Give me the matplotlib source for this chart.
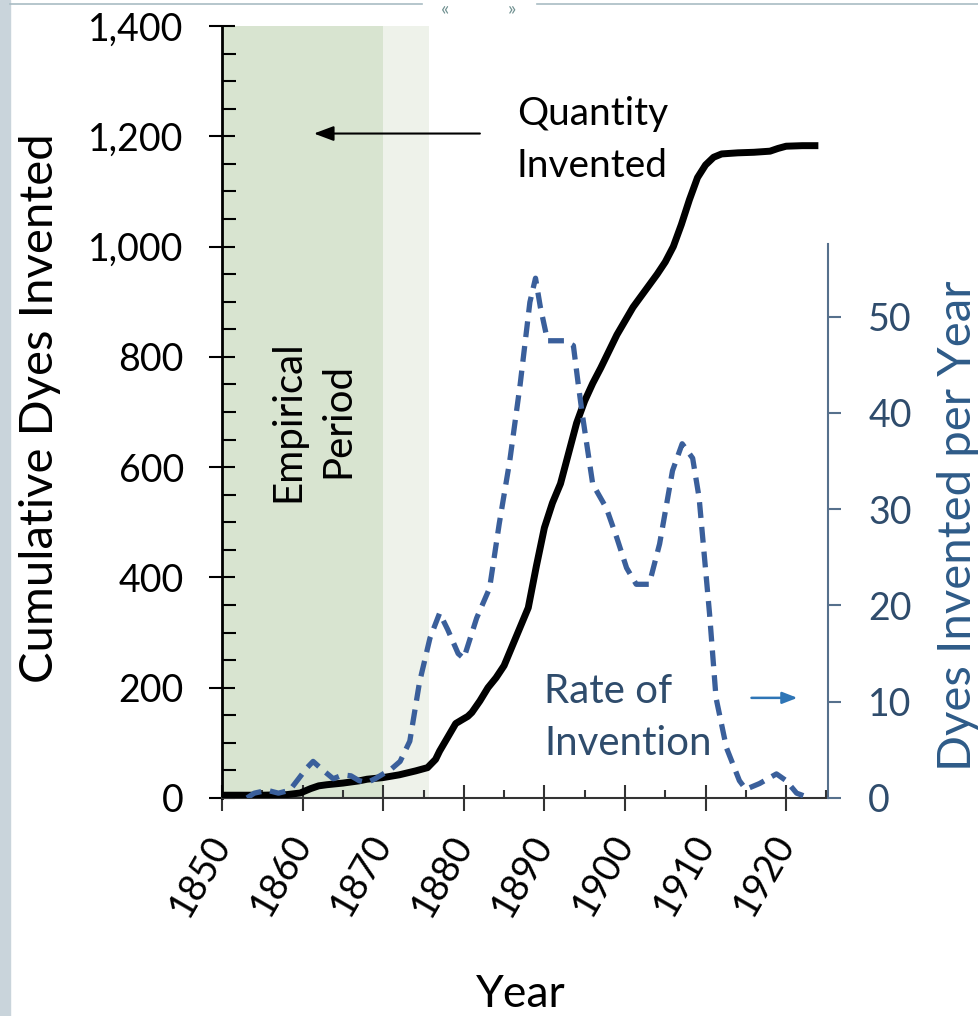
import numpy as np
import matplotlib.pyplot as plt
from matplotlib.ticker import MultipleLocator, FuncFormatter

plt.rcParams['font.family'] = ['Lato', 'DejaVu Sans']

# cumulative dyes invented (left axis)
years_cum = [1850, 1852, 1855, 1858, 1859.7, 1861, 1862, 1863, 1865, 1867, 1868, 1870,
             1872, 1874, 1875.5, 1876.5, 1877, 1878, 1879, 1879.8, 1880.5, 1881, 1882,
             1883, 1884, 1885, 1886, 1887, 1888, 1889, 1890, 1891, 1892, 1893, 1894,
             1895, 1896, 1897, 1898, 1899, 1900, 1901, 1902, 1903, 1904, 1905, 1906,
             1907, 1908, 1909, 1910, 1911, 1912, 1914, 1916, 1918, 1919, 1920, 1922, 1924]
cum_dyes = [5, 5, 5, 6, 9, 17, 22, 24, 27, 31, 34, 37,
            42, 49, 55, 70, 85, 110, 135, 142, 148, 155, 176,
            200, 218, 240, 275, 310, 345, 420, 490, 535, 570, 625, 680,
            720, 752, 780, 810, 840, 865, 890, 910, 930, 950, 972, 1000,
            1040, 1085, 1125, 1148, 1162, 1168, 1170, 1171, 1173, 1178, 1182, 1183, 1183]

# dyes invented per year (right axis)
years_rate = [1853.1, 1854, 1855.6, 1857, 1858.4, 1859.5, 1860.5, 1861.3, 1862.5, 1863.8,
              1865, 1866, 1867, 1868, 1869, 1870, 1871, 1872.1, 1873.3, 1874.5, 1875.8,
              1877, 1878, 1879.3, 1880, 1881.6, 1883.2, 1884.4, 1885.7, 1887, 1888.2,
              1888.9, 1889.5, 1890.4, 1891.5, 1892.5, 1893.6, 1894.2, 1894.7, 1896,
              1897.7, 1899, 1900.2, 1901.4, 1903, 1904.3, 1905.9, 1907.1, 1908.4, 1909.2,
              1910.5, 1911.3, 1912.6, 1914.2, 1915, 1916.7, 1918.8, 1920, 1921.3, 1922.9]
rate = [0, 0.5, 0.8, 0.5, 0.8, 2, 3.1, 3.8, 2.9, 2.0,
        2.4, 2.3, 1.8, 1.6, 2.0, 2.5, 3.0, 3.8, 5.9, 12, 16.6,
        19.2, 17.5, 15, 14.5, 18.7, 21.8, 28.5, 35, 43, 51.5,
        54, 51, 47.5, 47.5, 47.5, 47, 43, 39.9, 32.6,
        30.1, 27, 23.9, 22.2, 22.2, 26.4, 34, 36.8, 35.3, 31.2,
        19.1, 10.4, 5.2, 1.8, 0.9, 1.5, 2.5, 1.8, 0.5, 0]

x_ticks = [1850, 1860, 1870, 1880, 1890, 1900, 1910, 1920]
empirical = (1850, 1870)
transition = (1870, 1875.7)

blue = '#3a5f9b'
right_col = '#56708c'

fig = plt.figure(figsize=(9.79, 10.16), dpi=100)
ax = fig.add_axes([0.2268, 0.2146, 0.619, 0.7598])

# page decoration
fig.patches.append(plt.Rectangle((0, 0), 10 / 979, 1, transform=fig.transFigure,
                                 color='#c9d4db', zorder=0))
fig.add_artist(plt.Line2D([10 / 979, 422 / 979], [1 - 4 / 1016] * 2,
                          transform=fig.transFigure, color='#a9bcc4', lw=1.2))
fig.add_artist(plt.Line2D([537 / 979, 1], [1 - 4 / 1016] * 2,
                          transform=fig.transFigure, color='#a9bcc4', lw=1.2))
fig.text(445 / 979, 1.0, '«', color='#6f9090', fontsize=14, ha='center', va='top')
fig.text(512 / 979, 1.0, '»', color='#6f9090', fontsize=14, ha='center', va='top')

ax.axvspan(*empirical, color='#d8e4d0', lw=0, zorder=0)
ax.axvspan(*transition, color='#eef2ea', lw=0, zorder=0)

ax.plot(years_cum, cum_dyes, color='black', lw=5, solid_capstyle='butt', zorder=4)

ax.set_xlim(1850, 1925.2)
ax.set_ylim(0, 1400)
ax.set_xticks(x_ticks)
ax.xaxis.set_minor_locator(MultipleLocator(5))
ax.yaxis.set_major_locator(MultipleLocator(200))
ax.yaxis.set_minor_locator(MultipleLocator(50))
ax.yaxis.set_major_formatter(FuncFormatter(lambda v, p: f'{int(v):,}'))

for s in ['top', 'right']:
    ax.spines[s].set_visible(False)
ax.spines['left'].set_linewidth(2)
ax.spines['bottom'].set_linewidth(1.5)
ax.spines['bottom'].set_color('#333333')

ax.tick_params(axis='y', which='major', direction='inout', length=19, width=1.5,
               labelsize=27, pad=18)
ax.tick_params(axis='y', which='minor', direction='in', length=10, width=1.5)
ax.tick_params(axis='x', which='major', direction='inout', length=19, width=1.5,
               labelsize=27, pad=19, color='#333333')
ax.tick_params(axis='x', which='minor', direction='in', length=6, width=1.5, color='#333333')
for lab in ax.get_xticklabels():
    lab.set_rotation(60)
    lab.set_ha('right')
    lab.set_va('center')
    lab.set_rotation_mode('anchor')

ax.set_ylabel('Cumulative Dyes Invented', fontsize=34)
ax.yaxis.set_label_coords(-0.265, 0.505)
ax.set_xlabel('Year', fontsize=32)
ax.xaxis.set_label_coords(0.493, -0.228)

ax2 = ax.twinx()
ax2.plot(years_rate, rate, color=blue, lw=3.8, dashes=(3.0, 1.7), zorder=3)
ax2.set_ylim(0, 80.2)
ax2.set_yticks([0, 10, 20, 30, 40, 50])
for s in ['top', 'left', 'bottom']:
    ax2.spines[s].set_visible(False)
ax2.spines['right'].set_bounds(0, 57.6)
ax2.spines['right'].set_color(right_col)
ax2.spines['right'].set_linewidth(1.5)
ax2.tick_params(axis='y', direction='out', length=9, width=1.5, color=right_col,
                labelcolor='#2f4c6c', labelsize=27, pad=20)
ax2.set_ylabel('Dyes Invented per Year', fontsize=34, color='#2e5b88')
ax2.yaxis.set_label_coords(1.18, 0.352)

# annotations
ax.text(1886.6, 1193, 'Quantity\nInvented', fontsize=28, ha='left', va='center',
        linespacing=1.55, zorder=5)
ax.annotate('', xy=(1861.4, 1205), xytext=(1882, 1205),
            arrowprops=dict(arrowstyle='-|>,head_length=1.2,head_width=0.45',
                            color='black', lw=1.5, shrinkA=0, shrinkB=0))
ax.text(1861.3, 684, 'Empirical\nPeriod', fontsize=29, rotation=90, ha='center',
        va='center', linespacing=1.45, zorder=5)
ax2.text(1890.0, 8.4, 'Rate of\nInvention', fontsize=29, ha='left', va='center',
         color='#2f4c6c', linespacing=1.5, zorder=5)
ax2.annotate('', xy=(1921.4, 10.4), xytext=(1915.7, 10.4),
             arrowprops=dict(arrowstyle='-|>,head_length=0.9,head_width=0.35',
                             color='#2e75b6', lw=1.8, shrinkA=0, shrinkB=0))

fig.savefig('out.png', dpi=100)
